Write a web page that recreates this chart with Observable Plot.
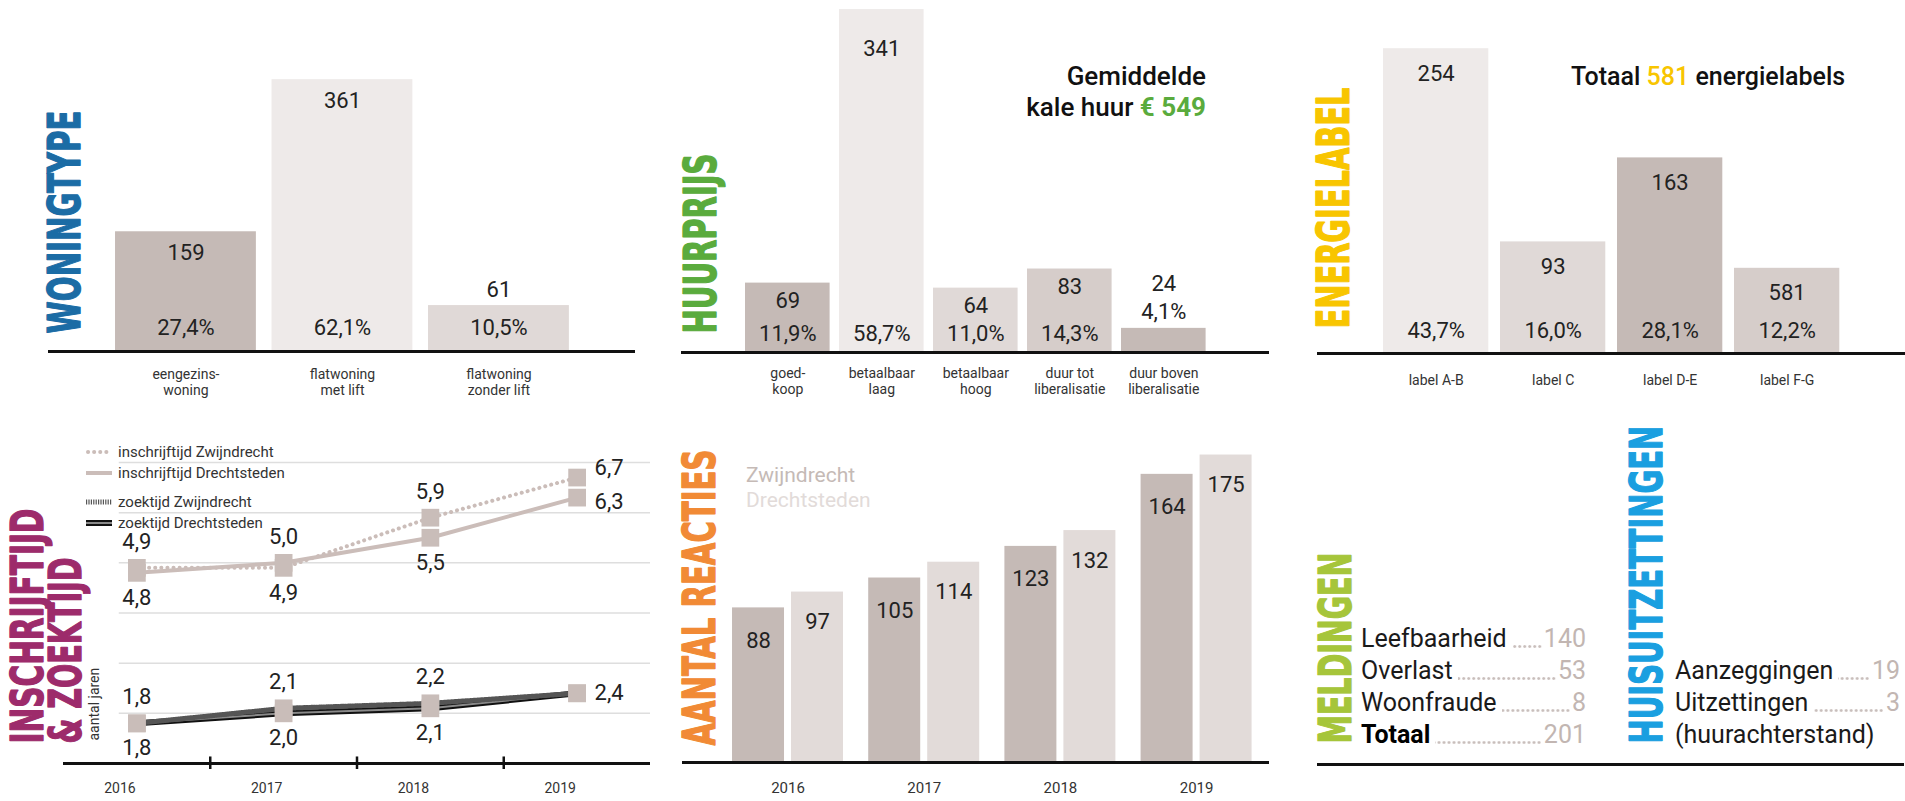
<!DOCTYPE html>
<html><head><meta charset="utf-8">
<script src="https://cdn.jsdelivr.net/npm/d3@7"></script>
<script src="https://cdn.jsdelivr.net/npm/@observablehq/plot@0.6"></script>
<style>
body{margin:0;background:#fff}
#root{position:relative;width:1905px;height:801px;overflow:hidden;background:#fff;font-family:Roboto,sans-serif;color:#1a1a1a}
.abs{position:absolute}
.list{position:absolute;font-size:25px;line-height:32px;color:#1a1a1a}
.row{display:flex;align-items:baseline;white-space:nowrap;height:32px}
.dots{flex:1 1 0;min-width:0;align-self:flex-end;height:3px;margin:0 2px 7px 5px;
  background-image:radial-gradient(circle at 50% 50%, #c9bfbc 1.2px, rgba(255,255,255,0) 1.6px);
  background-size:5px 3px;background-repeat:repeat-x;background-position:right bottom}
.num{color:#c2b6b2}
.leg{position:absolute;display:flex;align-items:center;font-size:15px;color:#333;height:20px}
.leg svg{margin-right:6px}
</style>
</head><body><div id="root"></div>
<script>
// ---------- DATA ----------
const woningCats = ["eengezins-\nwoning", "flatwoning\nmet lift", "flatwoning\nzonder lift"];
const woningCounts = [159, 361, 61];
const woningPct = [27.4, 62.1, 10.5];

const huurCats = ["goed-\nkoop", "betaalbaar\nlaag", "betaalbaar\nhoog", "duur tot\nliberalisatie", "duur boven\nliberalisatie"];
const huurCounts = [69, 341, 64, 83, 24];
const huurPct = [11.9, 58.7, 11.0, 14.3, 4.1];
const gemiddeldeHuur = 549;

const energieCats = ["label A-B", "label C", "label D-E", "label F-G"];
const energieCounts = [254, 93, 163, 71];
const energieCountLabels = ["254", "93", "163", "581"];
const energiePct = [43.7, 16.0, 28.1, 12.2];
const energieTotaal = 581;

const years = [2016, 2017, 2018, 2019];
const inschrZw = [4.9, 4.9, 5.9, 6.7];
const inschrDr = [4.8, 5.0, 5.5, 6.3];
const zoekZw = [1.8, 2.1, 2.2, 2.4];
const zoekDr = [1.8, 2.0, 2.1, 2.4];
const lineLegend = ["inschrijftijd Zwijndrecht", "inschrijftijd Drechtsteden", "zoektijd Zwijndrecht", "zoektijd Drechtsteden"];

const reactiesSeries = ["Zwijndrecht", "Drechtsteden"];
const reactiesZw = [88, 105, 123, 164];
const reactiesDr = [97, 114, 132, 175];

const meldingenLabels = ["Leefbaarheid", "Overlast", "Woonfraude", "Totaal"];
const meldingenValues = [140, 53, 8, 201];
const uitzetLabels = ["Aanzeggingen", "Uitzettingen", "(huurachterstand)"];
const uitzetValues = [19, 3];

// ---------- STYLE ----------
const C_DARK = "#c5bab6", C_MID = "#e0d9d7", C_LIGHT = "#eeeae9", C_MIDDARK = "#d6cdca";
const woningFill = [C_DARK, C_LIGHT, C_MID];
const huurFill = [C_DARK, C_LIGHT, C_MID, C_MIDDARK, C_DARK];
const energieFill = [C_LIGHT, C_MID, C_DARK, C_MIDDARK];
const TITLE_FONT = "'Liberation Sans Narrow','DejaVu Sans Condensed','DejaVu Sans',sans-serif";
const titleSpecs = [
  {text: "WONINGTYPE", cx: 65.5, bottom: 333, len: 223, color: "#1b6ca5"},
  {text: "HUURPRIJS", cx: 701, bottom: 333, len: 180, color: "#5aab3d"},
  {text: "ENERGIELABEL", cx: 1334, bottom: 328, len: 241, color: "#f8c500"},
  {text: "INSCHRIJFTIJD", cx: 28.5, bottom: 743, len: 235, color: "#9d2b6b"},
  {text: "& ZOEKTIJD", cx: 66, bottom: 743, len: 186, color: "#9d2b6b"},
  {text: "AANTAL REACTIES", cx: 700.5, bottom: 745, len: 296, color: "#f18a35"},
  {text: "MELDINGEN", cx: 1336, bottom: 743, len: 191, color: "#a6c53a"},
  {text: "HUISUITZETTINGEN", cx: 1647, bottom: 743, len: 318, color: "#1a9fe0"}
];

const root = document.getElementById("root");
const fmt1 = v => v.toFixed(1).replace(".", ",");
const baseStyle = {fontFamily: "Roboto, sans-serif", fontSize: "14px", background: "transparent", overflow: "visible"};

function place(svg, left, top) {
  svg.style.position = "absolute";
  svg.style.left = left + "px";
  svg.style.top = top + "px";
  svg.style.maxWidth = "none";
  root.appendChild(svg);
  // squeeze the condensed titles to their length along the reading direction
  d3.select(svg).selectAll("text").each(function () {
    const s = titleSpecs.find(t => t.text === this.textContent);
    if (!s) return;
    const natural = this.getComputedTextLength();
    if (natural > 0) {
      const sx = s.len / natural;
      const t = this.getAttribute("transform") || "";
      this.setAttribute("transform", (t + ` scale(${sx.toFixed(4)},1)`).trim());
    }
  });
}
function vTitle(name, p) {
  const s = titleSpecs.find(t => t.text === name);
  return Plot.text([s.text], {text: d => d, frameAnchor: "top-left", dx: s.cx - p.left - p.mL, dy: s.bottom - p.top,
    rotate: -90, textAnchor: "start", lineAnchor: "middle", fontSize: 45, fontWeight: 700, fontFamily: TITLE_FONT,
    fill: s.color, stroke: s.color, strokeWidth: 1.3});
}

// ---------- TOP ROW BAR PANELS ----------
function barPanel(cfg) {
  const k = (cfg.yRange[0] - cfg.yRange[1]) / (cfg.yDomain[1] - cfg.yDomain[0]);
  const data = cfg.cats.map((c, i) => ({c, n: cfg.counts[i], lab: cfg.countLabels ? cfg.countLabels[i] : String(cfg.counts[i]),
    pct: fmt1(cfg.pct[i]) + "%", fill: cfg.fills[i]}));
  const maxN = d3.max(cfg.counts);
  const labelMarks = [];
  data.forEach(d => {
    const h = d.n * k, pctIn = h > 35, cntIn = h > 60;
    const cDy = cntIn ? (d.n === maxN && cfg.maxPad ? cfg.maxPad : cfg.countPad) : (pctIn ? -16 : -44);
    labelMarks.push(Plot.text([d], {x: "c", y: "n", text: "lab", dy: cDy, fontSize: 22, fill: "#222"}));
    labelMarks.push(Plot.text([d], {x: "c", y: pctIn ? (() => 0) : "n", text: "pct", dy: pctIn ? cfg.pctOff : -16, fontSize: 22, fill: "#222"}));
  });
  const svg = Plot.plot({
    width: cfg.width, height: 400, marginLeft: cfg.mL, marginRight: cfg.mR, marginTop: 0, marginBottom: 400 - cfg.base,
    style: baseStyle,
    x: {domain: cfg.cats, range: cfg.xRange, paddingInner: cfg.pi, paddingOuter: cfg.po, round: false, axis: null},
    y: {domain: cfg.yDomain, range: cfg.yRange, axis: null},
    color: {type: "identity"},
    marks: [
      Plot.barY(data, {x: "c", y: "n", fill: "fill"}),
      Plot.ruleY([0], {stroke: "#111", strokeWidth: 3}),
      ...labelMarks,
      Plot.text(data, {x: "c", text: "c", frameAnchor: "bottom", lineAnchor: "top", dy: cfg.catDy, fontSize: 14, lineHeight: 1.15, fill: "#333"}),
      vTitle(cfg.title, {left: cfg.left, top: 0, mL: cfg.mL})
    ]
  });
  place(svg, cfg.left, 0);
}

barPanel({title: "WONINGTYPE", left: 0, width: 650, mL: 48, mR: 15, base: 351, xRange: [107.2, 576.7], pi: 0.1, po: 0.05,
  yDomain: [0, 400], yRange: [351, 49.8], cats: woningCats, counts: woningCounts, pct: woningPct, fills: woningFill,
  countPad: 21, pctOff: -24, catDy: 16});
barPanel({title: "HUURPRIJS", left: 650, width: 630, mL: 31, mR: 11, base: 352, xRange: [90.3, 560.3], pi: 0.1, po: 0.05,
  yDomain: [0, 350], yRange: [352, 0], cats: huurCats, counts: huurCounts, pct: huurPct, fills: huurFill,
  countPad: 18, maxPad: 39, pctOff: -19, catDy: 14});
barPanel({title: "ENERGIELABEL", left: 1280, width: 625, mL: 37, mR: 0, base: 353, xRange: [97.15, 565.15], pi: 0.1, po: 0.05,
  yDomain: [0, 300], yRange: [353, -7], cats: energieCats, counts: energieCounts, countLabels: energieCountLabels, pct: energiePct, fills: energieFill,
  countPad: 25, pctOff: -23, catDy: 20});

// annotations
const ann1 = document.createElement("div");
ann1.className = "abs";
ann1.style.cssText = "right:699px;top:61px;text-align:right;font-size:26px;line-height:31px;font-weight:500;color:#111";
ann1.innerHTML = `Gemiddelde<br>kale huur <span style="color:#5aab3d;font-weight:700">€ ${gemiddeldeHuur}</span>`;
root.appendChild(ann1);
const ann2 = document.createElement("div");
ann2.className = "abs";
ann2.style.cssText = "left:1571px;top:61px;font-size:25px;line-height:31px;font-weight:500;color:#111;white-space:nowrap";
ann2.innerHTML = `Totaal <span style="color:#f8c500">${energieTotaal}</span> energielabels`;
root.appendChild(ann2);

// ---------- LINE CHART ----------
{
  const P = {left: 0, top: 400, mL: 63};
  const toD = s => years.map((y, i) => ({year: y, v: s[i]}));
  const all = [inschrZw, inschrDr, zoekZw, zoekDr].flatMap(toD);
  const labs = [];
  [[inschrZw, inschrDr], [zoekZw, zoekDr]].forEach(([a, b]) => {
    years.forEach((y, i) => {
      const hi = Math.max(a[i], b[i]), lo = Math.min(a[i], b[i]);
      if (i < years.length - 1) {
        labs.push({year: y, v: hi, t: fmt1(hi), pos: "above"});
        labs.push({year: y, v: lo, t: fmt1(lo), pos: "below"});
      } else if (hi === lo) {
        labs.push({year: y, v: hi, t: fmt1(hi), pos: "right"});
      } else {
        labs.push({year: y, v: hi, t: fmt1(hi), pos: "rightUp"});
        labs.push({year: y, v: lo, t: fmt1(lo), pos: "rightDown"});
      }
    });
  });
  const lt = (pos, o) => Plot.text(labs.filter(d => d.pos === pos), {x: "year", y: "v", text: "t", fontSize: 22, fill: "#222", ...o});
  const svg = Plot.plot({
    width: 660, height: 401, marginLeft: 63, marginRight: 10, marginTop: 0, marginBottom: 38,
    style: baseStyle,
    x: {type: "linear", domain: [2015.5, 2019.5], range: [63, 650], axis: null},
    y: {domain: [1, 7], range: [363, 62], axis: null},
    marks: [
      Plot.ruleY([2, 3, 4, 5, 6, 7], {x1: 2015.88, x2: 2019.5, stroke: "#dedede", strokeWidth: 1.5}),
      Plot.ruleY([1], {x1: 2015.5, x2: 2019.5, stroke: "#111", strokeWidth: 3}),
      Plot.ruleX([2016.5, 2017.5, 2018.5], {y1: 0.88, y2: 1.13, stroke: "#111", strokeWidth: 2.5}),
      Plot.line(toD(zoekDr), {x: "year", y: "v", stroke: "#111", strokeWidth: 6}),
      Plot.line(toD(zoekDr), {x: "year", y: "v", stroke: "#8a8a8a", strokeWidth: 2}),
      Plot.line(toD(zoekZw), {x: "year", y: "v", stroke: "#555", strokeWidth: 5, strokeDasharray: "1.2 1.2"}),
      Plot.line(toD(inschrDr), {x: "year", y: "v", stroke: "#cbbdb9", strokeWidth: 4}),
      Plot.line(toD(inschrZw), {x: "year", y: "v", stroke: "#cbbdb9", strokeWidth: 4, strokeDasharray: "0.1 6", strokeLinecap: "round"}),
      Plot.dot(all, {x: "year", y: "v", symbol: "square", r: 10, fill: "#c9bdb9"}),
      lt("above", {dy: -26}),
      lt("below", {dy: 25}),
      lt("right", {dx: 32}),
      lt("rightUp", {dx: 32, dy: -10}),
      lt("rightDown", {dx: 32, dy: 4}),
      Plot.text(years, {x: d => d, text: d => String(d), frameAnchor: "bottom", lineAnchor: "top", dy: 20, dx: -17, fontSize: 14, fill: "#333"}),
      vTitle("INSCHRIJFTIJD", P),
      vTitle("& ZOEKTIJD", P),
      Plot.text(["aantal jaren"], {text: d => d, frameAnchor: "top-left", dx: 94.5 - 63, dy: 340, rotate: -90, textAnchor: "start", lineAnchor: "middle", fontSize: 14, fill: "#333"})
    ]
  });
  place(svg, 0, 400);

  const swatches = [
    `<line x1="2" y1="5" x2="24" y2="5" stroke="#cbbdb9" stroke-width="4" stroke-dasharray="0.1 6" stroke-linecap="round"/>`,
    `<line x1="0" y1="5" x2="26" y2="5" stroke="#cbbdb9" stroke-width="4"/>`,
    `<line x1="0" y1="5" x2="26" y2="5" stroke="#555" stroke-width="5" stroke-dasharray="1.2 1.2"/>`,
    `<line x1="0" y1="5" x2="26" y2="5" stroke="#111" stroke-width="6"/><line x1="0" y1="5" x2="26" y2="5" stroke="#8a8a8a" stroke-width="2"/>`
  ];
  const legY = [452, 473, 502, 523];
  lineLegend.forEach((t, i) => {
    const d = document.createElement("div");
    d.className = "leg";
    d.style.left = "86px";
    d.style.top = (legY[i] - 10) + "px";
    d.innerHTML = `<svg width="26" height="10">${swatches[i]}</svg><span>${t}</span>`;
    root.appendChild(d);
  });
}

// ---------- GROUPED BARS ----------
{
  const P = {left: 650, top: 400, mL: 32};
  const data = years.map((y, i) => ({year: y, zw: reactiesZw[i], dr: reactiesDr[i]}));
  const svg = Plot.plot({
    width: 630, height: 401, marginLeft: 32, marginRight: 11, marginTop: 0, marginBottom: 39,
    style: baseStyle,
    x: {domain: years, range: [68.4, 615.2], paddingInner: 0.185, paddingOuter: 0.1, round: false, axis: null},
    y: {domain: [0, 200], range: [362, 10.6], axis: null},
    marks: [
      Plot.barY(data, {x: "year", y: "zw", fill: "#c5bab6", insetRight: 59}),
      Plot.barY(data, {x: "year", y: "dr", fill: "#e2dbd9", insetLeft: 59}),
      Plot.ruleY([0], {stroke: "#111", strokeWidth: 3}),
      Plot.text(data, {x: "year", y: "zw", text: d => String(d.zw), dx: -29.5, dy: 33, fontSize: 22, fill: "#222"}),
      Plot.text(data, {x: "year", y: "dr", text: d => String(d.dr), dx: 29.5, dy: 30, fontSize: 22, fill: "#222"}),
      Plot.text(years, {x: d => d, text: d => String(d), frameAnchor: "bottom", lineAnchor: "top", dy: 20, fontSize: 15, fill: "#333"}),
      vTitle("AANTAL REACTIES", P)
    ]
  });
  place(svg, 650, 400);
  const lg = document.createElement("div");
  lg.className = "abs";
  lg.style.cssText = "left:746px;top:463px;font-size:21px;line-height:25px";
  lg.innerHTML = `<div style="color:#c5bab6">${reactiesSeries[0]}</div><div style="color:#e2dbd9">${reactiesSeries[1]}</div>`;
  root.appendChild(lg);
}

// ---------- TEXT PANEL ----------
{
  const P = {left: 1280, top: 400, mL: 37};
  const svg = Plot.plot({
    width: 625, height: 401, marginLeft: 37, marginRight: 1, marginTop: 0, marginBottom: 37,
    style: baseStyle,
    y: {domain: [0, 1], range: [364, 0], axis: null},
    marks: [
      Plot.ruleY([0], {stroke: "#111", strokeWidth: 3}),
      vTitle("MELDINGEN", P),
      vTitle("HUISUITZETTINGEN", P)
    ]
  });
  place(svg, 1280, 400);
  const m = document.createElement("div");
  m.className = "list";
  m.style.cssText = "left:1361px;top:623px;width:225px";
  m.innerHTML = meldingenLabels.map((l, i) =>
    `<div class="row"><span style="${i === meldingenLabels.length - 1 ? "font-weight:700;color:#000" : ""}">${l}</span><span class="dots"></span><span class="num">${meldingenValues[i]}</span></div>`).join("");
  root.appendChild(m);
  const u = document.createElement("div");
  u.className = "list";
  u.style.cssText = "left:1675px;top:655px;width:225px";
  u.innerHTML = uitzetLabels.map((l, i) => i < uitzetValues.length
    ? `<div class="row"><span>${l}</span><span class="dots"></span><span class="num">${uitzetValues[i]}</span></div>`
    : `<div class="row"><span>${l}</span></div>`).join("");
  root.appendChild(u);
}
</script></body></html>
